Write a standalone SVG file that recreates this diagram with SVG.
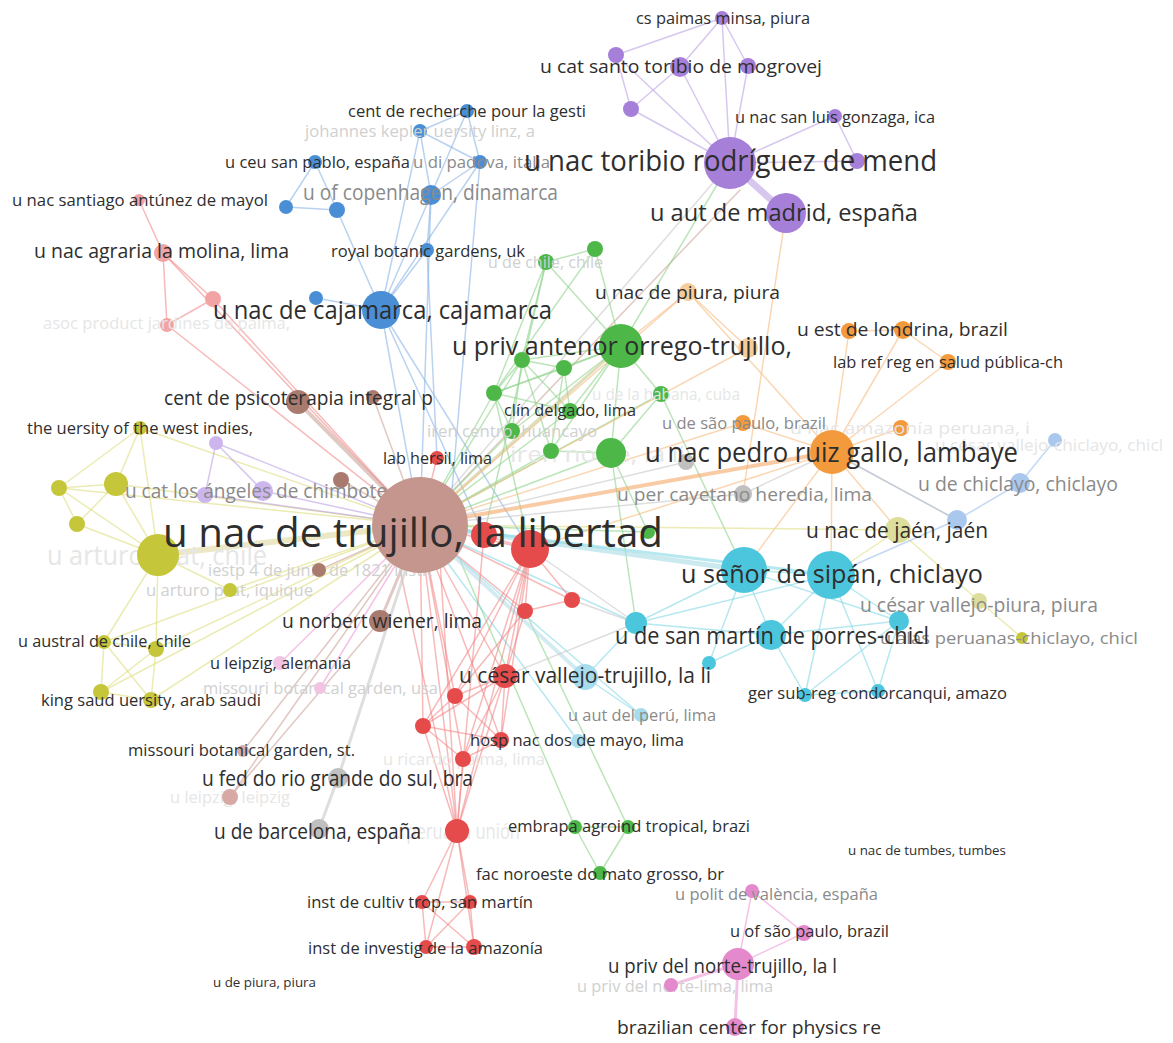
<svg xmlns="http://www.w3.org/2000/svg" width="1173" height="1043" viewBox="0 0 1173 1043">
<style>
text{font-family:"Open Sans","Liberation Sans",sans-serif;}
.d{fill:#2e2e2e}.m{fill:#8a8a8a}.f{fill:#d0d0d0}.ff{fill:#e6e6e6}
#edges line{stroke-width:1.5;stroke-linecap:round}
.eb{stroke:#c89a92;stroke-opacity:.55}.er{stroke:#f08080;stroke-opacity:.55}.eu{stroke:#8ab4e4;stroke-opacity:.6}
.eg{stroke:#8ed48a;stroke-opacity:.6}.ep{stroke:#bca2e2;stroke-opacity:.6}.eo{stroke:#f6bc80;stroke-opacity:.6}
.ec{stroke:#86d8e6;stroke-opacity:.6}.ey{stroke:#dede80;stroke-opacity:.6}.ek{stroke:#f0a8da;stroke-opacity:.7}
.ea{stroke:#c8c8c8;stroke-opacity:.6}.el{stroke:#aac8ee;stroke-opacity:.7}
.br{fill:#a97a6e}.bc{fill:#c4968e}.rd{fill:#e54b4b}.lr{fill:#f2a4a4}.bl{fill:#4a8fd6}.gr{fill:#4db848}
.pu{fill:#a57fd8}.lp{fill:#cdb6ee}.or{fill:#f39a3c}.lo{fill:#f6cc98}.cy{fill:#4cc6dc}.lc{fill:#a6dcec}
.ye{fill:#c6c63a}.ly{fill:#dede9c}.lb{fill:#aac8ee}.ga{fill:#c0c0c0}.pk{fill:#e48acc}.lk{fill:#f2c4e4}.bp{fill:#d8a8a4}
</style>
<rect width="1173" height="1043" fill="#ffffff"/>
<g id="edges">
<line class="ep" x1="722" y1="18" x2="680" y2="67"/><line class="ep" x1="722" y1="18" x2="748" y2="66"/><line class="ep" x1="722" y1="18" x2="730" y2="163"/><line class="ep" x1="722" y1="18" x2="616" y2="55"/>
<line class="ep" x1="616" y1="55" x2="730" y2="163"/><line class="ep" x1="616" y1="55" x2="631" y2="109"/><line class="ep" x1="680" y1="67" x2="631" y2="109"/><line class="ep" x1="680" y1="67" x2="730" y2="163"/>
<line class="ep" x1="748" y1="66" x2="730" y2="163"/><line class="ep" x1="631" y1="109" x2="730" y2="163"/><line class="ep" x1="730" y1="163" x2="835" y2="116"/><line class="ep" x1="835" y1="116" x2="857" y2="161"/><line class="ep" x1="730" y1="163" x2="857" y2="161"/>
<line class="ep" x1="730" y1="163" x2="786" y2="213" style="stroke-width:7"/>
<line class="ea" x1="730" y1="163" x2="420" y2="525"/><line class="eo" x1="786" y1="213" x2="743" y2="494"/><line class="eb" x1="740" y1="190" x2="420" y2="525"/><line class="eg" x1="730" y1="163" x2="621" y2="346"/>
<line class="eu" x1="467" y1="111" x2="420" y2="131"/><line class="eu" x1="467" y1="111" x2="480" y2="162"/><line class="eu" x1="467" y1="111" x2="431" y2="195"/><line class="eu" x1="420" y1="131" x2="480" y2="162"/><line class="eu" x1="420" y1="131" x2="431" y2="195"/><line class="eu" x1="420" y1="131" x2="381" y2="310"/>
<line class="eu" x1="315" y1="162" x2="286" y2="207"/><line class="eu" x1="315" y1="162" x2="337" y2="210"/><line class="eu" x1="286" y1="207" x2="337" y2="210"/><line class="eu" x1="337" y1="210" x2="381" y2="310"/><line class="eu" x1="480" y1="162" x2="431" y2="195"/><line class="eu" x1="480" y1="162" x2="381" y2="310"/>
<line class="eu" x1="431" y1="195" x2="427" y2="250"/><line class="eu" x1="431" y1="195" x2="381" y2="310"/><line class="eu" x1="427" y1="250" x2="381" y2="310"/><line class="eu" x1="316" y1="298" x2="381" y2="310"/>
<line class="eu" x1="381" y1="310" x2="420" y2="525"/><line class="eu" x1="381" y1="310" x2="484" y2="535"/><line class="eu" x1="381" y1="310" x2="530" y2="549"/><line class="eu" x1="431" y1="195" x2="420" y2="525"/><line class="eu" x1="427" y1="250" x2="437" y2="458"/><line class="eu" x1="480" y1="162" x2="452" y2="490"/>
<line class="er" x1="139" y1="200" x2="163" y2="253"/><line class="er" x1="163" y1="253" x2="213" y2="299"/><line class="er" x1="163" y1="253" x2="167" y2="325"/><line class="er" x1="213" y1="299" x2="167" y2="325"/><line class="er" x1="163" y1="253" x2="420" y2="525"/><line class="er" x1="213" y1="299" x2="420" y2="525"/><line class="er" x1="167" y1="325" x2="420" y2="525"/>
<line class="eg" x1="595" y1="249" x2="546" y2="262"/><line class="eg" x1="595" y1="249" x2="621" y2="346"/><line class="eg" x1="595" y1="249" x2="494" y2="393"/><line class="eg" x1="546" y1="262" x2="621" y2="346"/><line class="eg" x1="546" y1="262" x2="522" y2="360"/><line class="eg" x1="546" y1="262" x2="494" y2="393"/>
<line class="eg" x1="621" y1="346" x2="522" y2="360"/><line class="eg" x1="621" y1="346" x2="564" y2="368"/><line class="eg" x1="621" y1="346" x2="494" y2="393"/><line class="eg" x1="621" y1="346" x2="661" y2="394"/><line class="eg" x1="621" y1="346" x2="611" y2="453"/><line class="eg" x1="621" y1="346" x2="570" y2="411"/><line class="eg" x1="621" y1="346" x2="551" y2="451"/><line class="eg" x1="621" y1="346" x2="512" y2="431"/>
<line class="eg" x1="522" y1="360" x2="564" y2="368"/><line class="eg" x1="522" y1="360" x2="494" y2="393"/><line class="eg" x1="522" y1="360" x2="512" y2="431"/><line class="eg" x1="522" y1="360" x2="551" y2="451"/><line class="eg" x1="522" y1="360" x2="570" y2="411"/><line class="eg" x1="564" y1="368" x2="494" y2="393"/><line class="eg" x1="564" y1="368" x2="570" y2="411"/><line class="eg" x1="564" y1="368" x2="551" y2="451"/>
<line class="eg" x1="494" y1="393" x2="570" y2="411"/><line class="eg" x1="494" y1="393" x2="512" y2="431"/><line class="eg" x1="661" y1="394" x2="611" y2="453"/><line class="eg" x1="661" y1="394" x2="744" y2="570"/><line class="eg" x1="611" y1="453" x2="551" y2="451"/><line class="eg" x1="611" y1="453" x2="636" y2="623"/><line class="eg" x1="611" y1="453" x2="648" y2="532"/>
<line class="eg" x1="621" y1="346" x2="420" y2="525" style="stroke-width:3;stroke:#c8c890"/><line class="eg" x1="494" y1="393" x2="420" y2="525"/><line class="eg" x1="512" y1="431" x2="420" y2="525"/><line class="eg" x1="551" y1="451" x2="420" y2="525"/><line class="eg" x1="611" y1="453" x2="420" y2="525"/><line class="eg" x1="522" y1="360" x2="420" y2="525"/><line class="eg" x1="570" y1="411" x2="420" y2="525"/><line class="eg" x1="661" y1="394" x2="420" y2="525"/><line class="eg" x1="648" y1="532" x2="420" y2="525"/>
<line class="eg" x1="494" y1="393" x2="530" y2="549"/><line class="eg" x1="546" y1="262" x2="484" y2="535"/>
<line class="eg" x1="460" y1="560" x2="575" y2="827"/><line class="eg" x1="575" y1="827" x2="628" y2="827"/><line class="eg" x1="575" y1="827" x2="600" y2="873"/><line class="eg" x1="628" y1="827" x2="600" y2="873"/><line class="eg" x1="525" y1="611" x2="628" y2="827"/>
<line class="eo" x1="849" y1="331" x2="903" y2="330"/><line class="eo" x1="903" y1="330" x2="948" y2="362"/><line class="eo" x1="849" y1="331" x2="832" y2="452"/><line class="eo" x1="903" y1="330" x2="832" y2="452"/><line class="eo" x1="948" y1="362" x2="832" y2="452"/><line class="eo" x1="901" y1="428" x2="832" y2="452"/><line class="eo" x1="743" y1="423" x2="832" y2="452"/><line class="eo" x1="688" y1="292" x2="832" y2="452"/><line class="eo" x1="688" y1="292" x2="748" y2="348"/><line class="eo" x1="688" y1="292" x2="621" y2="346"/>
<line class="eo" x1="832" y1="452" x2="420" y2="525" style="stroke-width:4;stroke:#f4a868"/><line class="eo" x1="832" y1="452" x2="898" y2="530"/><line class="eo" x1="832" y1="452" x2="744" y2="570"/><line class="eo" x1="832" y1="452" x2="831" y2="575"/><line class="eo" x1="832" y1="452" x2="957" y2="520"/><line class="eo" x1="748" y1="348" x2="420" y2="525"/><line class="eo" x1="688" y1="292" x2="420" y2="525"/><line class="eo" x1="743" y1="423" x2="420" y2="525"/><line class="eo" x1="832" y1="452" x2="530" y2="549"/>
<line class="ec" x1="744" y1="570" x2="831" y2="575"/><line class="ec" x1="744" y1="570" x2="636" y2="623"/><line class="ec" x1="744" y1="570" x2="771" y2="635"/><line class="ec" x1="744" y1="570" x2="709" y2="663"/><line class="ec" x1="744" y1="570" x2="899" y2="621"/>
<line class="ec" x1="831" y1="575" x2="771" y2="635"/><line class="ec" x1="831" y1="575" x2="899" y2="621"/><line class="ec" x1="831" y1="575" x2="805" y2="695"/><line class="ec" x1="831" y1="575" x2="878" y2="691"/><line class="ec" x1="831" y1="575" x2="636" y2="623"/>
<line class="ec" x1="771" y1="635" x2="636" y2="623"/><line class="ec" x1="771" y1="635" x2="709" y2="663"/><line class="ec" x1="771" y1="635" x2="805" y2="695"/><line class="ec" x1="771" y1="635" x2="899" y2="621"/><line class="ec" x1="899" y1="621" x2="878" y2="691"/><line class="ec" x1="899" y1="621" x2="805" y2="695"/><line class="ec" x1="878" y1="691" x2="805" y2="695"/>
<line class="ec" x1="744" y1="570" x2="420" y2="525" style="stroke-width:5;stroke:#a8dce4"/><line class="ec" x1="831" y1="575" x2="420" y2="525" style="stroke-width:3"/><line class="ec" x1="636" y1="623" x2="585" y2="677"/><line class="ec" x1="585" y1="677" x2="641" y2="715"/><line class="ec" x1="585" y1="677" x2="420" y2="525" style="stroke-width:4;stroke:#b8dfe8"/><line class="ec" x1="636" y1="623" x2="420" y2="525"/><line class="ec" x1="578" y1="741" x2="420" y2="525"/><line class="ec" x1="641" y1="715" x2="420" y2="525"/>
<line class="ey" x1="140" y1="428" x2="116" y2="484"/><line class="ey" x1="140" y1="428" x2="59" y2="488"/><line class="ey" x1="140" y1="428" x2="158" y2="555"/><line class="ey" x1="59" y1="488" x2="116" y2="484"/><line class="ey" x1="59" y1="488" x2="77" y2="524"/><line class="ey" x1="59" y1="488" x2="158" y2="555"/><line class="ey" x1="116" y1="484" x2="158" y2="555"/><line class="ey" x1="116" y1="484" x2="77" y2="524"/><line class="ey" x1="77" y1="524" x2="158" y2="555"/>
<line class="ey" x1="158" y1="555" x2="230" y2="590"/><line class="ey" x1="158" y1="555" x2="104" y2="642"/><line class="ey" x1="158" y1="555" x2="156" y2="649"/><line class="ey" x1="104" y1="642" x2="156" y2="649"/><line class="ey" x1="104" y1="642" x2="101" y2="692"/><line class="ey" x1="104" y1="642" x2="151" y2="700"/><line class="ey" x1="156" y1="649" x2="151" y2="700"/><line class="ey" x1="156" y1="649" x2="101" y2="692"/><line class="ey" x1="101" y1="692" x2="151" y2="700"/>
<line class="ey" x1="101" y1="692" x2="420" y2="525"/><line class="ey" x1="151" y1="700" x2="420" y2="525"/><line class="ey" x1="104" y1="642" x2="420" y2="525"/><line class="ey" x1="156" y1="649" x2="420" y2="525"/><line class="ey" x1="230" y1="590" x2="420" y2="525"/><line class="ey" x1="116" y1="484" x2="420" y2="525"/><line class="ey" x1="59" y1="488" x2="420" y2="525"/><line class="ey" x1="140" y1="428" x2="420" y2="525"/>
<line class="ey" x1="158" y1="555" x2="420" y2="525" style="stroke-width:6;stroke:#e0d8a0"/>
<line class="ey" x1="898" y1="530" x2="979" y2="601"/><line class="ey" x1="979" y1="601" x2="1022" y2="638"/><line class="ey" x1="898" y1="530" x2="420" y2="525"/><line class="ey" x1="898" y1="530" x2="831" y2="575"/>
<line class="el" x1="1055" y1="440" x2="1020" y2="483"/><line class="el" x1="1020" y1="483" x2="957" y2="520"/><line class="el" x1="957" y1="520" x2="832" y2="452"/><line class="el" x1="957" y1="520" x2="831" y2="575"/>
<line class="er" x1="530" y1="549" x2="484" y2="535"/><line class="er" x1="530" y1="549" x2="572" y2="600"/><line class="er" x1="530" y1="549" x2="525" y2="611"/><line class="er" x1="530" y1="549" x2="505" y2="676"/><line class="er" x1="530" y1="549" x2="455" y2="696"/><line class="er" x1="530" y1="549" x2="423" y2="726"/><line class="er" x1="530" y1="549" x2="501" y2="740"/><line class="er" x1="530" y1="549" x2="463" y2="759"/><line class="er" x1="530" y1="549" x2="457" y2="831"/>
<line class="er" x1="525" y1="611" x2="572" y2="600"/><line class="er" x1="525" y1="611" x2="505" y2="676"/><line class="er" x1="525" y1="611" x2="455" y2="696"/><line class="er" x1="505" y1="676" x2="455" y2="696"/><line class="er" x1="505" y1="676" x2="423" y2="726"/><line class="er" x1="505" y1="676" x2="501" y2="740"/><line class="er" x1="505" y1="676" x2="463" y2="759"/><line class="er" x1="455" y1="696" x2="423" y2="726"/><line class="er" x1="455" y1="696" x2="501" y2="740"/><line class="er" x1="423" y1="726" x2="501" y2="740"/><line class="er" x1="423" y1="726" x2="463" y2="759"/><line class="er" x1="501" y1="740" x2="463" y2="759"/>
<line class="er" x1="457" y1="831" x2="463" y2="759"/><line class="er" x1="457" y1="831" x2="422" y2="902"/><line class="er" x1="457" y1="831" x2="470" y2="902"/><line class="er" x1="457" y1="831" x2="426" y2="947"/><line class="er" x1="457" y1="831" x2="474" y2="947"/>
<line class="er" x1="422" y1="902" x2="470" y2="902"/><line class="er" x1="422" y1="902" x2="426" y2="947"/><line class="er" x1="422" y1="902" x2="474" y2="947"/><line class="er" x1="470" y1="902" x2="426" y2="947"/><line class="er" x1="470" y1="902" x2="474" y2="947"/><line class="er" x1="426" y1="947" x2="474" y2="947"/>
<line class="er" x1="437" y1="458" x2="420" y2="525"/><line class="er" x1="457" y1="831" x2="420" y2="525"/><line class="er" x1="457" y1="831" x2="484" y2="535"/><line class="er" x1="457" y1="831" x2="505" y2="676"/><line class="er" x1="457" y1="831" x2="423" y2="726"/><line class="er" x1="457" y1="831" x2="440" y2="560"/><line class="er" x1="457" y1="831" x2="400" y2="570"/>
<line class="er" x1="505" y1="676" x2="420" y2="525"/><line class="er" x1="455" y1="696" x2="420" y2="525"/><line class="er" x1="423" y1="726" x2="420" y2="525"/><line class="er" x1="501" y1="740" x2="420" y2="525"/><line class="er" x1="463" y1="759" x2="420" y2="525"/><line class="er" x1="525" y1="611" x2="420" y2="525"/><line class="er" x1="572" y1="600" x2="420" y2="525"/><line class="er" x1="530" y1="549" x2="420" y2="525"/>
<line class="ea" x1="572" y1="600" x2="636" y2="623"/><line class="ea" x1="530" y1="549" x2="636" y2="623"/><line class="ea" x1="505" y1="676" x2="636" y2="623"/>
<line class="eb" x1="298" y1="402" x2="420" y2="525" style="stroke-width:4"/><line class="eb" x1="373" y1="397" x2="420" y2="525"/><line class="eb" x1="341" y1="480" x2="420" y2="525"/><line class="eb" x1="319" y1="570" x2="420" y2="525"/><line class="eb" x1="380" y1="621" x2="420" y2="525" style="stroke-width:3"/><line class="eb" x1="243" y1="751" x2="420" y2="525"/><line class="eb" x1="230" y1="797" x2="420" y2="525"/><line class="eb" x1="380" y1="621" x2="230" y2="797"/>
<line class="ea" x1="338" y1="778" x2="420" y2="525" style="stroke-width:3"/><line class="ea" x1="338" y1="778" x2="319" y2="829" style="stroke-width:3"/>
<line class="ea" x1="743" y1="494" x2="420" y2="525"/><line class="ea" x1="686" y1="462" x2="420" y2="525"/><line class="ea" x1="743" y1="494" x2="832" y2="452"/>
<line class="ep" x1="216" y1="443" x2="263" y2="491"/><line class="ep" x1="216" y1="443" x2="205" y2="495"/><line class="ep" x1="263" y1="491" x2="420" y2="525"/><line class="ep" x1="205" y1="495" x2="420" y2="525"/><line class="ep" x1="216" y1="443" x2="420" y2="525"/>
<line class="ek" x1="738" y1="964" x2="752" y2="891"/><line class="ek" x1="752" y1="891" x2="804" y2="933"/><line class="ek" x1="738" y1="964" x2="804" y2="933"/><line class="ek" x1="738" y1="964" x2="671" y2="985" style="stroke-width:3"/><line class="ek" x1="738" y1="964" x2="735" y2="1027" style="stroke-width:3"/>
<line class="ek" x1="280" y1="663" x2="420" y2="525"/><line class="ek" x1="320" y1="688" x2="420" y2="525"/>
</g>
<g id="n-kepler"><circle class="bl" cx="420" cy="131" r="7"/><text class="f" x="305" y="137" font-size="17" textLength="230" lengthAdjust="spacingAndGlyphs">johannes kepler uersity linz, a</text></g>
<g id="n-asoc"><circle class="lr" cx="213" cy="299" r="8"/><circle class="lr" cx="167" cy="325" r="7"/><text class="ff" x="43" y="329" font-size="17" textLength="247" lengthAdjust="spacingAndGlyphs">asoc product jardines de palma,</text></g>
<g id="n-uchile"><circle class="gr" cx="546" cy="262" r="8"/><text class="f" x="488" y="268" font-size="16" textLength="115" lengthAdjust="spacingAndGlyphs">u de chile, chile</text></g>
<g id="n-habana"><circle class="gr" cx="661" cy="394" r="8"/><text class="ff" x="592" y="400" font-size="17" textLength="148" lengthAdjust="spacingAndGlyphs">u de la habana, cuba</text></g>
<g id="n-irencentro"><circle class="gr" cx="512" cy="431" r="8"/><text class="f" x="427" y="437" font-size="17" textLength="170" lengthAdjust="spacingAndGlyphs">iren centro, huancayo</text></g>
<g id="n-irennorte"><text class="ff" x="510" y="462" font-size="22" textLength="175" lengthAdjust="spacingAndGlyphs">iren norte, la li</text><circle class="gr" cx="551" cy="451" r="8"/></g>
<g id="n-amazonia"><circle class="or" cx="901" cy="428" r="8"/><text class="ff" x="790" y="434" font-size="17" textLength="240" lengthAdjust="spacingAndGlyphs">u nac amazonía peruana, i</text></g>
<g id="n-cvchiclayo"><circle class="lb" cx="1055" cy="440" r="7"/><text class="ff" x="935" y="451" font-size="17" textLength="228" lengthAdjust="spacingAndGlyphs">u césar vallejo-chiclayo, chicl</text></g>
<g id="n-arturochile"><text class="ff" x="47" y="565" font-size="27" textLength="220" lengthAdjust="spacingAndGlyphs">u arturo prat, chile</text><circle class="ye" cx="158" cy="555" r="21"/></g>
<g id="n-iestp"><text class="f" x="208" y="576" font-size="17" textLength="224" lengthAdjust="spacingAndGlyphs">iestp 4 de junio de 1821 instit</text><circle class="br" cx="319" cy="570" r="7"/></g>
<g id="n-iquique"><text class="f" x="146" y="596" font-size="17" textLength="167" lengthAdjust="spacingAndGlyphs">u arturo prat, iquique</text><circle class="ye" cx="230" cy="590" r="7"/></g>
<g id="n-missusa"><text class="f" x="203" y="694" font-size="17" textLength="235" lengthAdjust="spacingAndGlyphs">missouri botanical garden, usa</text><circle class="lk" cx="320" cy="688" r="6"/></g>
<g id="n-ricardo"><text class="ff" x="383" y="765" font-size="17" textLength="162" lengthAdjust="spacingAndGlyphs">u ricardo palma, lima</text><circle class="rd" cx="463" cy="759" r="8"/></g>
<g id="n-leipzig2"><text class="ff" x="170" y="803" font-size="17" textLength="120" lengthAdjust="spacingAndGlyphs">u leipzig, leipzig</text><circle class="bp" cx="230" cy="797" r="8"/></g>
<g id="n-union"><text class="ff" x="392" y="839" font-size="21" textLength="128" lengthAdjust="spacingAndGlyphs">u peruana unión</text><circle class="rd" cx="457" cy="831" r="12"/></g>
<g id="n-pnlima"><text class="f" x="577" y="992" font-size="17" textLength="196" lengthAdjust="spacingAndGlyphs">u priv del norte-lima, lima</text><circle class="pk" cx="671" cy="985" r="7"/></g>
<g id="n-p1"><circle class="pu" cx="616" cy="55" r="8"/></g>
<g id="n-p2"><circle class="pu" cx="631" cy="109" r="8"/></g>
<g id="n-p3"><circle class="pu" cx="857" cy="161" r="8"/></g>
<g id="n-b1"><circle class="bl" cx="286" cy="207" r="7"/></g>
<g id="n-b2"><circle class="bl" cx="337" cy="210" r="8"/></g>
<g id="n-b3"><circle class="bl" cx="316" cy="298" r="7"/></g>
<g id="n-g1"><circle class="gr" cx="595" cy="249" r="8"/></g>
<g id="n-g2"><circle class="gr" cx="522" cy="360" r="8"/></g>
<g id="n-g3"><circle class="gr" cx="564" cy="368" r="8"/></g>
<g id="n-g4"><circle class="gr" cx="494" cy="393" r="8"/></g>
<g id="n-g5"><circle class="gr" cx="611" cy="453" r="15"/></g>
<g id="n-g6"><circle class="gr" cx="648" cy="532" r="7"/></g>
<g id="n-o1"><circle class="lo" cx="748" cy="348" r="10"/></g>
<g id="n-o2"><circle class="or" cx="903" cy="330" r="9"/></g>
<g id="n-a1"><circle class="ga" cx="686" cy="462" r="8"/></g>
<g id="n-lb1"><circle class="lb" cx="957" cy="520" r="10"/></g>
<g id="n-y1"><circle class="ye" cx="59" cy="488" r="8"/></g>
<g id="n-y2"><circle class="ye" cx="116" cy="484" r="12"/></g>
<g id="n-y3"><circle class="ye" cx="77" cy="524" r="8"/></g>
<g id="n-y4"><circle class="ye" cx="104" cy="642" r="7"/></g>
<g id="n-lp1"><circle class="lp" cx="216" cy="443" r="7"/></g>
<g id="n-lp2"><circle class="lp" cx="205" cy="495" r="8"/></g>
<g id="n-br1"><circle class="br" cx="341" cy="480" r="8"/></g>
<g id="n-br2"><circle class="br" cx="373" cy="397" r="7"/></g>
<g id="n-r1"><circle class="rd" cx="484" cy="535" r="13"/></g>
<g id="n-r2"><circle class="rd" cx="530" cy="549" r="19"/></g>
<g id="n-r3"><circle class="rd" cx="572" cy="600" r="8"/></g>
<g id="n-r4"><circle class="rd" cx="525" cy="611" r="8"/></g>
<g id="n-r5"><circle class="rd" cx="455" cy="696" r="8"/></g>
<g id="n-r6"><circle class="rd" cx="423" cy="726" r="8"/></g>
<g id="n-c1"><circle class="cy" cx="636" cy="623" r="11"/></g>
<g id="n-c2"><circle class="cy" cx="709" cy="663" r="7"/></g>
<g id="n-c3"><circle class="cy" cx="899" cy="621" r="10"/></g>
<g id="n-c4"><circle class="cy" cx="878" cy="691" r="7"/></g>
<g id="n-c5"><circle class="cy" cx="831" cy="575" r="24"/></g>
<g id="n-gr1"><circle class="gr" cx="575" cy="827" r="7"/></g>
<g id="n-padova"><circle class="bl" cx="480" cy="162" r="7"/><text class="m" x="413" y="168" font-size="17" textLength="137" lengthAdjust="spacingAndGlyphs">u di padova, italia</text></g>
<g id="n-copenhagen"><circle class="bl" cx="431" cy="195" r="10"/><text class="m" x="303" y="200" font-size="21" textLength="255" lengthAdjust="spacingAndGlyphs">u of copenhagen, dinamarca</text></g>
<g id="n-saopaulo"><circle class="or" cx="743" cy="423" r="8"/><text class="m" x="662" y="429" font-size="17" textLength="164" lengthAdjust="spacingAndGlyphs">u de são paulo, brazil</text></g>
<g id="n-losangeles"><circle class="lp" cx="263" cy="491" r="10"/><text class="m" x="125" y="498" font-size="20" textLength="267" lengthAdjust="spacingAndGlyphs">u cat los ángeles de chimbote,</text></g>
<g id="n-chiclayo"><circle class="lb" cx="1020" cy="483" r="10"/><text class="m" x="918" y="491" font-size="20" textLength="200" lengthAdjust="spacingAndGlyphs">u de chiclayo, chiclayo</text></g>
<g id="n-cayetano"><circle class="ga" cx="743" cy="494" r="9"/><text class="m" x="617" y="501" font-size="19" textLength="255" lengthAdjust="spacingAndGlyphs">u per cayetano heredia, lima</text></g>
<g id="n-cvpiura"><circle class="ly" cx="979" cy="601" r="8"/><text class="m" x="860" y="612" font-size="20" textLength="238" lengthAdjust="spacingAndGlyphs">u césar vallejo-piura, piura</text></g>
<g id="n-alas"><circle class="ye" cx="1022" cy="638" r="6"/><text class="m" x="880" y="644" font-size="17" textLength="258" lengthAdjust="spacingAndGlyphs">u alas peruanas-chiclayo, chicl</text></g>
<g id="n-autperu"><circle class="lc" cx="641" cy="715" r="7"/><text class="m" x="568" y="721" font-size="17" textLength="148" lengthAdjust="spacingAndGlyphs">u aut del perú, lima</text></g>
<g id="n-valencia"><circle class="pk" cx="752" cy="891" r="7"/><text class="m" x="675" y="900" font-size="17" textLength="203" lengthAdjust="spacingAndGlyphs">u polit de valència, españa</text></g>
<g id="n-paimas"><circle class="pu" cx="722" cy="18" r="7"/><text class="d" x="636" y="24" font-size="16" textLength="174" lengthAdjust="spacingAndGlyphs">cs paimas minsa, piura</text></g>
<g id="n-mogrovej"><circle class="pu" cx="680" cy="67" r="10"/><circle class="pu" cx="748" cy="66" r="8"/><text class="d" x="540" y="73" font-size="19" textLength="282" lengthAdjust="spacingAndGlyphs">u cat santo toribio de mogrovej</text></g>
<g id="n-sanluis"><circle class="pu" cx="835" cy="116" r="7"/><text class="d" x="735" y="123" font-size="17" textLength="200" lengthAdjust="spacingAndGlyphs">u nac san luis gonzaga, ica</text></g>
<g id="n-toribio"><circle class="pu" cx="730" cy="163" r="26"/><text class="d" x="524" y="171" font-size="30" textLength="413" lengthAdjust="spacingAndGlyphs">u nac toribio rodríguez de mend</text></g>
<g id="n-madrid"><circle class="pu" cx="786" cy="213" r="20"/><text class="d" x="650" y="221" font-size="23" textLength="268" lengthAdjust="spacingAndGlyphs">u aut de madrid, españa</text></g>
<g id="n-recherche"><circle class="bl" cx="467" cy="111" r="7"/><text class="d" x="348" y="117" font-size="17" textLength="238" lengthAdjust="spacingAndGlyphs">cent de recherche pour la gesti</text></g>
<g id="n-ceu"><circle class="bl" cx="315" cy="162" r="7"/><text class="d" x="225" y="168" font-size="17" textLength="185" lengthAdjust="spacingAndGlyphs">u ceu san pablo, españa</text></g>
<g id="n-santiago"><circle class="lr" cx="139" cy="200" r="6"/><text class="d" x="12" y="206" font-size="17" textLength="256" lengthAdjust="spacingAndGlyphs">u nac santiago antúnez de mayol</text></g>
<g id="n-molina"><circle class="lr" cx="163" cy="253" r="9"/><text class="d" x="34" y="258" font-size="20" textLength="255" lengthAdjust="spacingAndGlyphs">u nac agraria la molina, lima</text></g>
<g id="n-kew"><circle class="bl" cx="427" cy="250" r="7"/><text class="d" x="331" y="257" font-size="17" textLength="194" lengthAdjust="spacingAndGlyphs">royal botanic gardens, uk</text></g>
<g id="n-piura"><circle class="lo" cx="688" cy="292" r="9"/><text class="d" x="595" y="299" font-size="19" textLength="185" lengthAdjust="spacingAndGlyphs">u nac de piura, piura</text></g>
<g id="n-cajamarca"><circle class="bl" cx="381" cy="310" r="19"/><text class="d" x="213" y="319" font-size="25" textLength="339" lengthAdjust="spacingAndGlyphs">u nac de cajamarca, cajamarca</text></g>
<g id="n-londrina"><circle class="or" cx="849" cy="331" r="8"/><text class="d" x="797" y="336" font-size="19" textLength="211" lengthAdjust="spacingAndGlyphs">u est de londrina, brazil</text></g>
<g id="n-antenor"><circle class="gr" cx="621" cy="346" r="22"/><text class="d" x="452" y="355" font-size="26" textLength="340" lengthAdjust="spacingAndGlyphs">u priv antenor orrego-trujillo,</text></g>
<g id="n-labref"><circle class="or" cx="948" cy="362" r="8"/><text class="d" x="833" y="368" font-size="17" textLength="230" lengthAdjust="spacingAndGlyphs">lab ref reg en salud pública-ch</text></g>
<g id="n-psico"><circle class="br" cx="298" cy="402" r="12"/><text class="d" x="164" y="405" font-size="20" textLength="269" lengthAdjust="spacingAndGlyphs">cent de psicoterapia integral p</text></g>
<g id="n-westindies"><circle class="ye" cx="140" cy="428" r="7"/><text class="d" x="27" y="434" font-size="17" textLength="226" lengthAdjust="spacingAndGlyphs">the uersity of the west indies,</text></g>
<g id="n-delgado"><circle class="gr" cx="570" cy="411" r="8"/><text class="d" x="504" y="416" font-size="17" textLength="132" lengthAdjust="spacingAndGlyphs">clín delgado, lima</text></g>
<g id="n-hersil"><circle class="rd" cx="437" cy="458" r="7"/><text class="d" x="383" y="464" font-size="17" textLength="109" lengthAdjust="spacingAndGlyphs">lab hersil, lima</text></g>
<g id="n-prg"><circle class="or" cx="832" cy="452" r="22"/><text class="d" x="645" y="462" font-size="27" textLength="373" lengthAdjust="spacingAndGlyphs">u nac pedro ruiz gallo, lambaye</text></g>
<g id="n-jaen"><circle class="ly" cx="898" cy="530" r="13"/><text class="d" x="806" y="538" font-size="21" textLength="182" lengthAdjust="spacingAndGlyphs">u nac de jaén, jaén</text></g>
<g id="n-sipan"><circle class="cy" cx="744" cy="570" r="23"/><text class="d" x="681" y="583" font-size="26" textLength="302" lengthAdjust="spacingAndGlyphs">u señor de sipán, chiclayo</text></g>
<g id="n-wiener"><circle class="br" cx="380" cy="621" r="11"/><text class="d" x="282" y="628" font-size="20" textLength="200" lengthAdjust="spacingAndGlyphs">u norbert wiener, lima</text></g>
<g id="n-smp"><circle class="cy" cx="771" cy="635" r="15"/><text class="d" x="615" y="644" font-size="23" textLength="314" lengthAdjust="spacingAndGlyphs">u de san martín de porres-chicl</text></g>
<g id="n-austral"><circle class="ye" cx="156" cy="649" r="8"/><text class="d" x="18" y="647" font-size="17" textLength="173" lengthAdjust="spacingAndGlyphs">u austral de chile, chile</text></g>
<g id="n-leipzig"><circle class="lk" cx="280" cy="663" r="7"/><text class="d" x="210" y="669" font-size="17" textLength="141" lengthAdjust="spacingAndGlyphs">u leipzig, alemania</text></g>
<g id="n-cvtrujillo"><circle class="rd" cx="505" cy="676" r="12"/><circle class="lc" cx="585" cy="677" r="13"/><text class="d" x="459" y="683" font-size="22" textLength="252" lengthAdjust="spacingAndGlyphs">u césar vallejo-trujillo, la li</text></g>
<g id="n-condorcanqui"><circle class="cy" cx="805" cy="695" r="7"/><text class="d" x="748" y="699" font-size="17" textLength="259" lengthAdjust="spacingAndGlyphs">ger sub-reg condorcanqui, amazo</text></g>
<g id="n-kingsaud"><circle class="ye" cx="101" cy="692" r="8"/><circle class="ye" cx="151" cy="700" r="8"/><text class="d" x="41" y="706" font-size="17" textLength="220" lengthAdjust="spacingAndGlyphs">king saud uersity, arab saudi</text></g>
<g id="n-dosmayo"><circle class="rd" cx="501" cy="740" r="8"/><circle class="lc" cx="578" cy="741" r="7"/><text class="d" x="470" y="746" font-size="17" textLength="214" lengthAdjust="spacingAndGlyphs">hosp nac dos de mayo, lima</text></g>
<g id="n-missst"><circle class="bp" cx="243" cy="751" r="6"/><text class="d" x="128" y="756" font-size="17" textLength="227" lengthAdjust="spacingAndGlyphs">missouri botanical garden, st.</text></g>
<g id="n-riogrande"><circle class="ga" cx="338" cy="778" r="10"/><text class="d" x="202" y="786" font-size="21" textLength="271" lengthAdjust="spacingAndGlyphs">u fed do rio grande do sul, bra</text></g>
<g id="n-barcelona"><circle class="ga" cx="319" cy="829" r="10"/><text class="d" x="214" y="839" font-size="21" textLength="207" lengthAdjust="spacingAndGlyphs">u de barcelona, españa</text></g>
<g id="n-embrapa"><circle class="gr" cx="628" cy="827" r="7"/><text class="d" x="508" y="832" font-size="17" textLength="242" lengthAdjust="spacingAndGlyphs">embrapa agroind tropical, brazi</text></g>
<g id="n-tumbes"><text class="d" x="848" y="855" font-size="12" textLength="158" lengthAdjust="spacingAndGlyphs">u nac de tumbes, tumbes</text></g>
<g id="n-mato"><circle class="gr" cx="600" cy="873" r="7"/><text class="d" x="476" y="880" font-size="17" textLength="248" lengthAdjust="spacingAndGlyphs">fac noroeste do mato grosso, br</text></g>
<g id="n-cultiv"><circle class="rd" cx="422" cy="902" r="7"/><circle class="rd" cx="470" cy="902" r="7"/><text class="d" x="307" y="908" font-size="17" textLength="226" lengthAdjust="spacingAndGlyphs">inst de cultiv trop, san martín</text></g>
<g id="n-usp"><circle class="pk" cx="804" cy="933" r="8"/><text class="d" x="730" y="937" font-size="17" textLength="159" lengthAdjust="spacingAndGlyphs">u of são paulo, brazil</text></g>
<g id="n-investig"><circle class="rd" cx="426" cy="947" r="7"/><circle class="rd" cx="474" cy="947" r="8"/><text class="d" x="308" y="954" font-size="17" textLength="235" lengthAdjust="spacingAndGlyphs">inst de investig de la amazonía</text></g>
<g id="n-upn"><circle class="pk" cx="738" cy="964" r="16"/><text class="d" x="608" y="973" font-size="20" textLength="229" lengthAdjust="spacingAndGlyphs">u priv del norte-trujillo, la l</text></g>
<g id="n-udep"><text class="d" x="213" y="987" font-size="12" textLength="103" lengthAdjust="spacingAndGlyphs">u de piura, piura</text></g>
<g id="n-cbpf"><circle class="pk" cx="735" cy="1027" r="9"/><text class="d" x="617" y="1034" font-size="19" textLength="264" lengthAdjust="spacingAndGlyphs">brazilian center for physics re</text></g>
<g id="n-unt"><circle class="bc" cx="420" cy="525" r="48"/><text class="d" x="163" y="547" font-size="40" textLength="500" lengthAdjust="spacingAndGlyphs">u nac de trujillo, la libertad</text></g>
</svg>
